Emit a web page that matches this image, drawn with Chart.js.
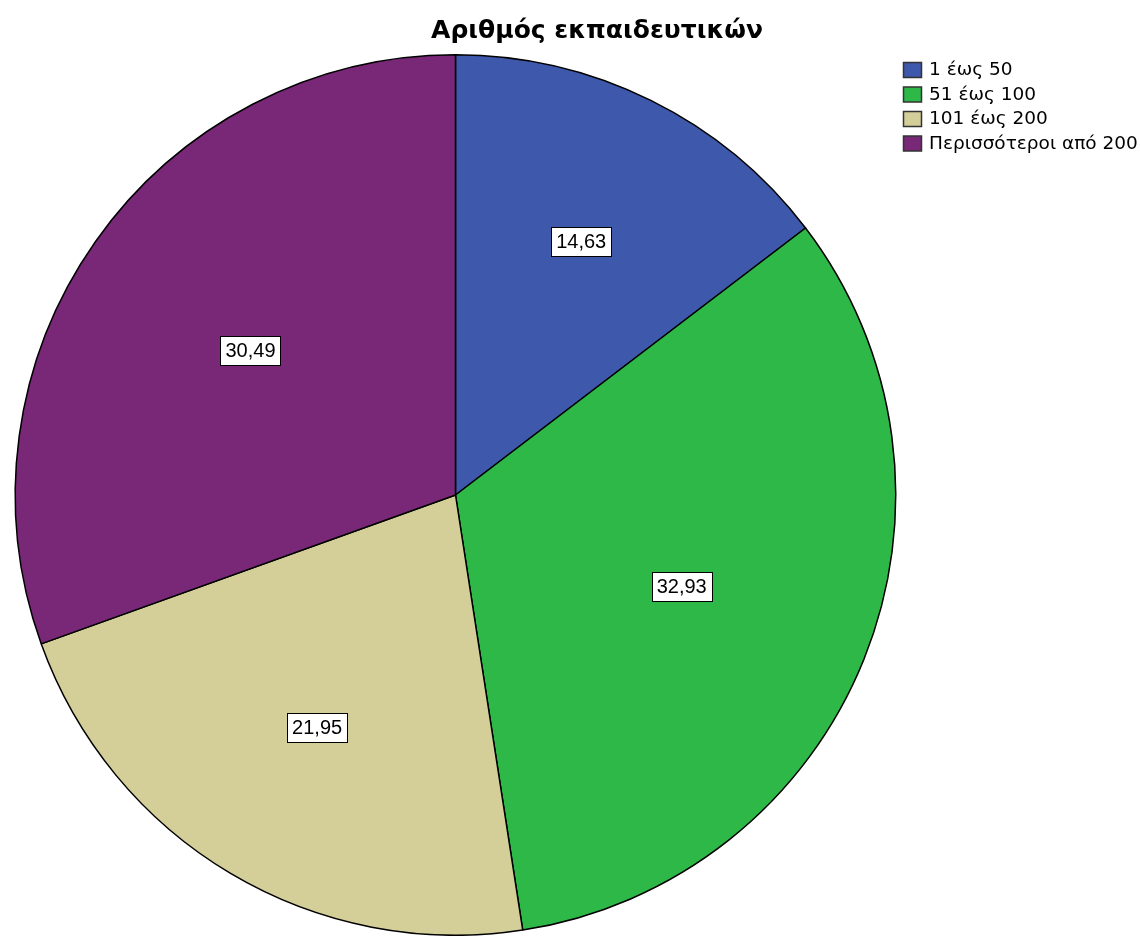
<!DOCTYPE html>
<html>
<head>
<meta charset="utf-8">
<script src="https://cdn.jsdelivr.net/npm/chart.js@4"></script>
<style>
  html, body { margin: 0; padding: 0; background: #fff; }
  #wrap { width: 1140px; height: 936px; position: relative; }
</style>
</head>
<body>
<div id="wrap"><canvas id="pita"></canvas></div>
<script>
const titlos = 'Αριθμός εκπαιδευτικών';
const katigories = ['1 έως 50', '51 έως 100', '101 έως 200', 'Περισσότεροι από 200'];
const pososta = [14.63, 32.93, 21.95, 30.49];
const xromata = ['#3e58ac', '#2eb848', '#d4ce99', '#792878'];

const FONT_LBL = '"Liberation Sans", Arial, sans-serif';
const FONT_TXT = '"DejaVu Sans", Verdana, sans-serif';

// τίτλος στο κέντρο της σελίδας (όχι του γραφήματος)
const titlosPlugin = {
    id: 'titlosPlugin',
    afterDraw(chart) {
        const ctx = chart.ctx;
        ctx.save();
        ctx.font = 'bold 25px ' + FONT_TXT;
        ctx.textAlign = 'center';
        ctx.textBaseline = 'alphabetic';
        ctx.fillStyle = '#000';
        ctx.fillText(titlos, 597, 38);
        ctx.restore();
    }
};

// ετικέτες με τα ποσοστά μέσα σε λευκό κουτάκι, στο κέντρο βάρους του τομέα
const etiketes = {
    id: 'etiketes',
    afterDatasetsDraw(chart) {
        const ctx = chart.ctx;
        const meta = chart.getDatasetMeta(0);
        ctx.save();
        ctx.font = '20px ' + FONT_LBL;
        ctx.textAlign = 'center';
        ctx.textBaseline = 'middle';
        meta.data.forEach((arc, i) => {
            const p = arc.getProps(['x', 'y', 'startAngle', 'endAngle', 'outerRadius'], true);
            const th = p.endAngle - p.startAngle;
            const mid = p.startAngle + th / 2;
            const r = 2 * p.outerRadius * Math.sin(th / 2) / (3 * th / 2);
            const x = p.x + Math.cos(mid) * r;
            const y = p.y + Math.sin(mid) * r;
            const txt = pososta[i].toFixed(2).replace('.', ',');
            const w = Math.round(ctx.measureText(txt).width + 10);
            const h = 29;
            const bx = Math.round(x - w / 2) + 0.5, by = Math.round(y - h / 2) + 0.5;
            ctx.fillStyle = '#fff';
            ctx.fillRect(bx, by, w, h);
            ctx.strokeStyle = '#000';
            ctx.lineWidth = 1;
            ctx.strokeRect(bx, by, w, h);
            ctx.fillStyle = '#000';
            ctx.fillText(txt, x, y + 1);
        });
        ctx.restore();
    }
};

// υπόμνημα πάνω δεξιά
const ypomnima = {
    id: 'ypomnima',
    afterDraw(chart) {
        const ctx = chart.ctx;
        const x0 = 903, y0 = 62, step = 24.5;
        ctx.save();
        ctx.font = '18.5px ' + FONT_TXT;
        ctx.textBaseline = 'middle';
        katigories.forEach((k, i) => {
            const y = y0 + i * step;
            ctx.fillStyle = xromata[i];
            ctx.fillRect(x0 + 0.5, y + 0.5, 18, 15);
            ctx.strokeStyle = '#333';
            ctx.lineWidth = 1.5;
            ctx.strokeRect(x0 + 0.5, y + 0.5, 18, 15);
            ctx.fillStyle = '#000';
            ctx.fillText(k, x0 + 26, y + 8.5);
        });
        ctx.restore();
    }
};

new Chart(document.getElementById('pita'), {
    type: 'pie',
    data: {
        labels: katigories,
        datasets: [{
            data: pososta,
            backgroundColor: xromata,
            borderColor: '#000',
            borderWidth: 1.5
        }]
    },
    options: {
        responsive: true,
        maintainAspectRatio: false,
        animation: false,
        layout: { padding: { left: 11, right: 240, top: 54, bottom: -5 } },
        plugins: {
            legend: { display: false },
            tooltip: { enabled: false },
            title: { display: false }
        }
    },
    plugins: [etiketes, ypomnima, titlosPlugin]
});
</script>
</body>
</html>
